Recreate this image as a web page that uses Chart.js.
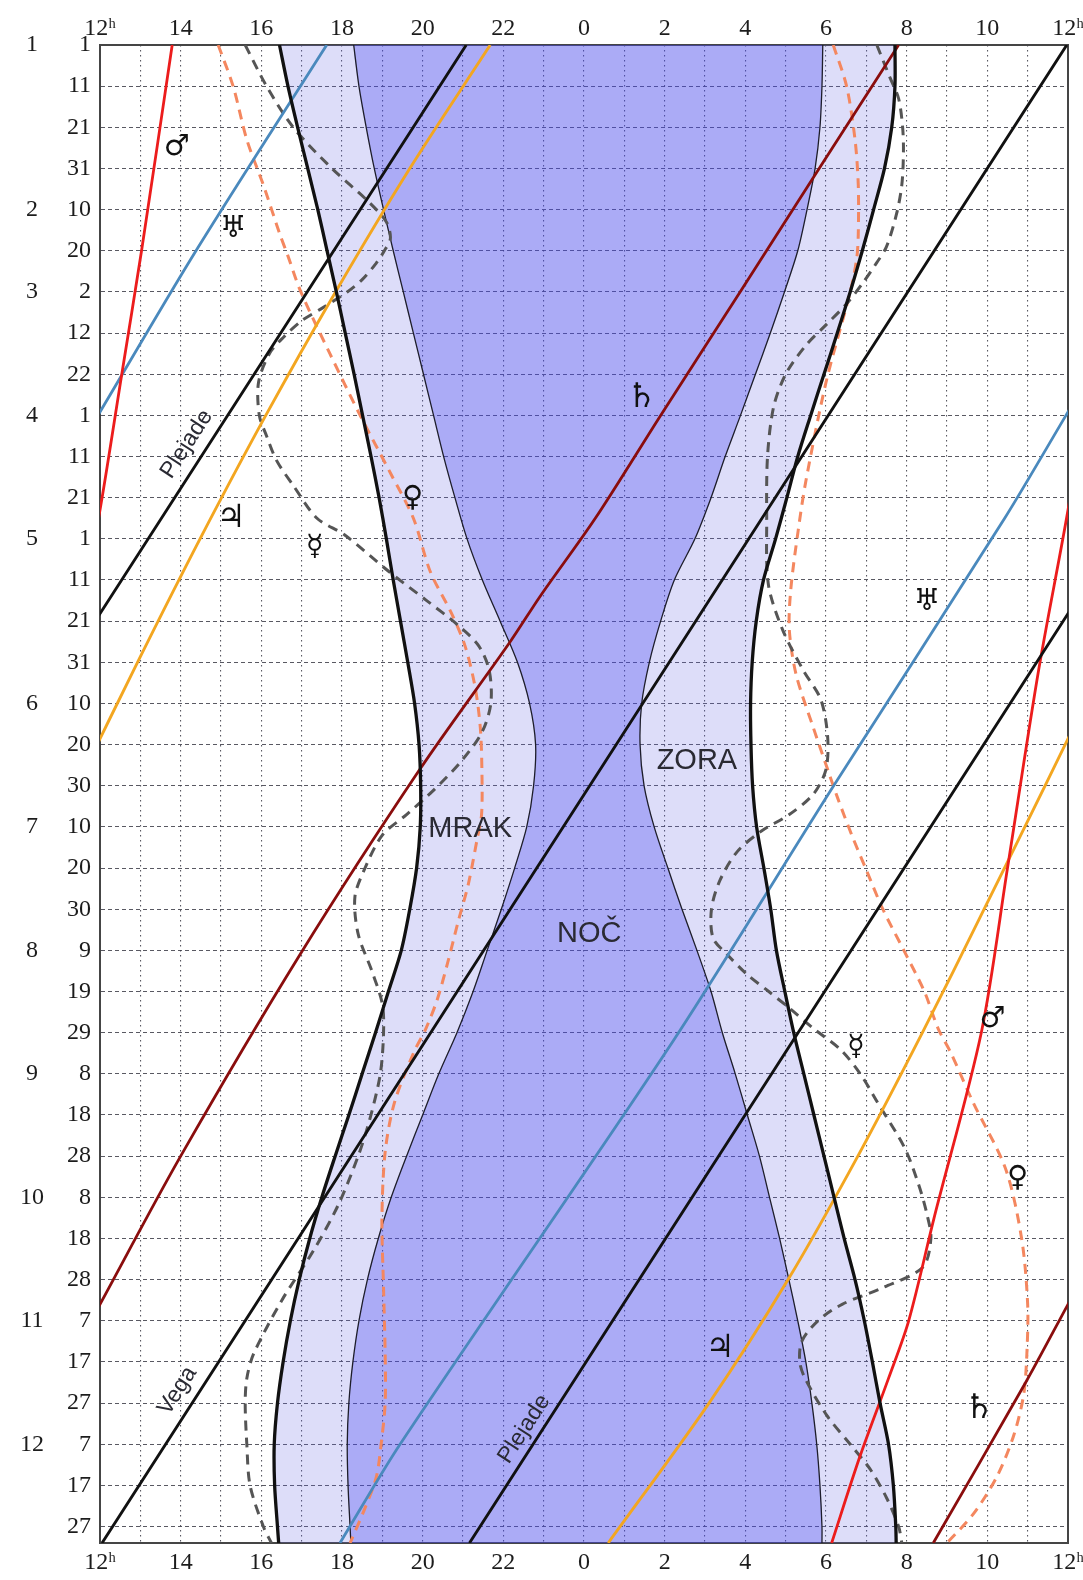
<!DOCTYPE html>
<html lang="sl">
<head>
<meta charset="utf-8">
<title>Vidnost planetov</title>
<script src="https://cdn.jsdelivr.net/npm/chart.js@4.4.1/dist/chart.umd.min.js"></script>
<style>
  html, body { margin: 0; padding: 0; background: #ffffff; }
  canvas { display: block; }
</style>
</head>
<body>
<canvas id="chart" width="1083" height="1580"></canvas>
<script>
// ---------- axes ----------
const HOUR_MIN = 12, HOUR_MAX = 36;   // noon to next noon (hours, continuous)
const DAY_MIN = 0, DAY_MAX = 364;     // day of year, 1 Jan = 0

const hourTicks  = [12,13,14,15,16,17,18,19,20,21,22,23,24,25,26,27,28,29,30,31,32,33,34,35,36];
const hourLabels = ['12ʰ','','14','','16','','18','','20','','22','','0','','2','','4','','6','','8','','10','','12ʰ'];

const dayTicks  = [0,10,20,30,40,50,60,70,80,90,100,110,120,130,140,150,160,170,180,190,200,210,220,230,240,250,260,270,280,290,300,310,320,330,340,350,360];
const dayLabels = ['1','11','21','31','10','20','2','12','22','1','11','21','1','11','21','31','10','20','30','10','20','30','9','19','29','8','18','28','8','18','28','7','17','27','7','17','27'];

const monthTicks  = [0,40,60,90,120,160,190,220,250,280,310,340];
const monthLabels = ['1','2','3','4','5','6','7','8','9','10','11','12'];

// ---------- Sun: sunset, end of dusk, start of dawn, sunrise (hours) ----------
const sunDays   = [0,10,20,30,40,50,60,70,80,90,100,110,120,130,140,150,160,170,180,190,200,210,220,230,240,250,260,270,280,290,300,310,320,330,340,350,360,364];
const sunset    = [16.45,16.66,16.9,17.15,17.4,17.63,17.86,18.08,18.3,18.51,18.72,18.92,19.1,19.27,19.45,19.63,19.8,19.91,19.95,19.94,19.85,19.68,19.47,19.15,18.83,18.5,18.17,17.83,17.5,17.2,16.94,16.72,16.54,16.4,16.32,16.33,16.4,16.43];
const duskEnd   = [18.29,18.42,18.6,18.8,19.03,19.27,19.52,19.77,20.02,20.27,20.52,20.8,21.1,21.48,21.92,22.35,22.65,22.8,22.75,22.58,22.28,21.95,21.6,21.25,20.85,20.4,20.0,19.6,19.22,18.9,18.63,18.42,18.27,18.17,18.13,18.15,18.2,18.22];
const dawnStart = [29.92,29.9,29.85,29.73,29.53,29.3,28.97,28.62,28.25,27.88,27.5,27.15,26.75,26.24,25.9,25.62,25.43,25.39,25.49,25.74,26.08,26.43,26.8,27.15,27.43,27.75,28.05,28.35,28.6,28.85,29.08,29.3,29.5,29.65,29.77,29.85,29.9,29.9];
const sunrise   = [31.71,31.71,31.63,31.45,31.18,30.9,30.6,30.28,29.95,29.62,29.3,29.03,28.75,28.45,28.27,28.17,28.13,28.14,28.18,28.28,28.46,28.63,28.77,28.98,29.2,29.45,29.7,29.95,30.2,30.45,30.72,30.95,31.15,31.34,31.55,31.67,31.73,31.74];

// ---------- planets and stars (transit hours, continuous; wrap every 24 h) ----------
const marsDays    = [0,50,80,113,152,200,240,285,310,324,343,364];
const marsHours   = [13.79,13.03,12.54,12.0,11.27,10.5,9.85,8.68,8.05,7.55,6.84,6.14];

const uranusDays  = [0,50,90,115,180,242,340,364];
const uranusHours = [17.62,14.38,11.95,10.43,6.19,2.21,-4.56,-6.05];

const jupiterDays  = [0,30,60,90,120,150,180,210,240,270,300,330,364];
const jupiterHours = [21.675,19.68,17.84,16.11,14.48,12.93,11.43,9.92,8.39,6.79,5.06,3.1,0.6];

const saturnDays  = [0,30,60,90,115,134,145,176,221,270,306,325,364];
const saturnHours = [31.8,29.83,27.87,25.9,24.28,22.91,22.17,19.93,16.96,14.0,12.0,10.95,8.66];

const pleiadesDays  = [0,364];
const pleiadesHours = [21.08,-2.84];

const vegaDays  = [0,364];
const vegaHours = [35.97,12.05];

// ---------- Mercury (evening / morning) ----------
const mercEveDays  = [0,10,20,30,38,43,47,50,53,57,60,64,67,71,75,82,90,95,101,107,115,119,128,135,141,146,152,160,167,174,181,187,192,200,207,216,225,233,240,250,261,270,282,293,305,318,324,330,340,350,360,364];
const mercEveHours = [15.6,16.13,16.79,17.75,18.65,19.1,19.2,19.05,18.85,18.5,18.13,17.5,17.0,16.55,16.2,15.93,15.95,16.13,16.38,16.79,17.38,18.06,19.17,20.1,20.88,21.39,21.65,21.69,21.47,20.96,20.28,19.6,19.0,18.57,18.32,18.4,18.74,19.0,19.03,18.95,18.69,18.4,17.9,17.29,16.51,15.81,15.64,15.6,15.64,15.72,16.05,16.25];

const mercMornDays  = [0,8,13,20,26,34,41,49,53,58,63,68,73,80,88,100,115,131,142,152,159,168,176,182,187,191,196,203,210,217,221,226,230,234,239,244,250,257,268,277,284,290,297,302,306,310,315,320,324,333,340,346,353,360,364];
const mercMornHours = [31.26,31.59,31.8,31.9,31.92,31.88,31.75,31.5,31.25,30.9,30.5,30.0,29.5,29.0,28.7,28.55,28.53,28.57,28.92,29.44,29.87,30.04,30.0,29.69,29.09,28.4,27.8,27.37,27.16,27.2,27.55,28.06,28.58,29.09,29.69,30.35,30.85,31.28,31.95,32.3,32.5,32.6,32.4,31.4,30.4,29.8,29.4,29.35,29.48,30.02,30.6,31.09,31.5,31.8,31.88];

// ---------- Venus (evening / morning) ----------
const venEveDays  = [0,10,23,34,46,51,60,75,90,104,115,128,138,146,156,166,177,187,193,204,213,223,232,239,245,257,269,285,302,318,330,340,348,356,364];
const venEveHours = [14.93,15.3,15.64,16.05,16.46,16.65,16.98,17.7,18.45,19.2,19.77,20.19,20.71,21.05,21.3,21.43,21.47,21.46,21.35,21.13,20.88,20.62,20.36,20.08,19.77,19.3,19.07,18.99,19.03,19.07,19.07,18.97,18.85,18.55,18.2];

const venMornDays  = [0,10,23,34,46,52,60,82,106,118,132,142,153,166,176,183,192,200,210,220,230,239,245,257,273,290,306,318,328,338,348,357,364];
const venMornHours = [30.18,30.51,30.72,30.8,30.8,30.76,30.6,30.0,29.5,29.31,29.13,29.09,29.26,29.69,30.04,30.29,30.64,30.98,31.41,31.93,32.44,32.78,33.1,33.65,34.45,34.85,35.0,34.98,34.9,34.65,34.23,33.65,33.0];

// ---------- text on the plot ----------
const textLabels = [
  { text: 'ZORA',    hour: 26.8,  day: 174,   size: 29, angle: 0 },
  { text: 'MRAK',    hour: 21.18, day: 190.5, size: 29, angle: 0 },
  { text: 'NOČ',     hour: 24.13, day: 216,   size: 29, angle: 0 },
  { text: 'Plejade', hour: 14.15, day: 97,    size: 23, angle: -57 },
  { text: 'Plejade', hour: 22.52, day: 336.3, size: 23, angle: -57 },
  { text: 'Vega',    hour: 13.92, day: 327,   size: 23, angle: -57 }
];
const symbolLabels = [
  { text: '♂', hour: 13.9,   day: 25,    size: 29 },
  { text: '♂', hour: 34.125, day: 236.8, size: 29 },
  { text: '♅', hour: 15.3,   day: 44.8,  size: 30 },
  { text: '♅', hour: 32.5,   day: 135.4, size: 30 },
  { text: '♄', hour: 25.43,  day: 85.7,  size: 34 },
  { text: '♄', hour: 33.8,   day: 331.4, size: 34 },
  { text: '♃', hour: 15.25,  day: 115.1, size: 32 },
  { text: '♃', hour: 27.375, day: 316.7, size: 32 },
  { text: '☿', hour: 17.33,  day: 122,   size: 29 },
  { text: '☿', hour: 30.75,  day: 243.7, size: 29 },
  { text: '♀', hour: 19.75,  day: 110.2, size: 29 },
  { text: '♀', hour: 34.75,  day: 275.5, size: 29 }
];

// ---------- styles ----------
const LIGHT_BAND = 'rgba(100,100,228,0.22)';
const DARK_BAND  = 'rgba(55,55,242,0.30)';
const GRID_COLOR = 'rgba(60,60,70,0.85)';
const FRAME      = '#454545';
const TICK_FONT  = { family: '"Liberation Serif", "DejaVu Serif", serif', size: 24 };
const TICK_COLOR = '#1c1c1c';

function track(days, hours, shift) {
  return days.map((d, i) => ({ x: hours[i] + shift, y: d }));
}

function curve(name, days, hours, color, width, dash, order, shifts) {
  return (shifts || [0]).map(s => ({
    label: name,
    data: track(days, hours, s),
    borderColor: color,
    borderWidth: width,
    borderDash: dash || [],
    borderCapStyle: 'butt',
    pointRadius: 0,
    pointHoverRadius: 0,
    fill: false,
    tension: 0.3,
    order: order
  }));
}

// closed area between an evening boundary and a morning boundary
function band(name, days, left, right, color, order) {
  const last = days.length - 1;
  const pts = [{ x: HOUR_MIN - 3, y: DAY_MIN - 60 }, { x: left[0], y: DAY_MIN - 25 }];
  days.forEach((d, i) => pts.push({ x: left[i], y: d }));
  pts.push({ x: left[last], y: DAY_MAX + 25 }, { x: right[last], y: DAY_MAX + 25 });
  for (let i = last; i >= 0; i--) pts.push({ x: right[i], y: days[i] });
  pts.push({ x: right[0], y: DAY_MIN - 25 }, { x: HOUR_MAX + 3, y: DAY_MIN - 60 });
  return {
    label: name, data: pts, fill: 'shape', backgroundColor: color,
    borderColor: 'rgba(0,0,0,0)', borderWidth: 0, pointRadius: 0, pointHoverRadius: 0,
    tension: 0.3, order: order
  };
}

const WRAP = [0, 24];
const datasets = [
  band('somrak', sunDays, sunset, sunrise, LIGHT_BAND, 20),
  band('noč', sunDays, duskEnd, dawnStart, DARK_BAND, 19),
  ...curve('konec mraka', sunDays, duskEnd, '#1d1d2a', 1.3, null, 8),
  ...curve('začetek zore', sunDays, dawnStart, '#1d1d2a', 1.3, null, 8),
  ...curve('Venera zvečer', venEveDays, venEveHours, '#f4875f', 3, [10, 7], 6),
  ...curve('Venera zjutraj', venMornDays, venMornHours, '#f4875f', 3, [10, 7], 6),
  ...curve('Merkur zvečer', mercEveDays, mercEveHours, '#555555', 3, [10, 7], 5),
  ...curve('Merkur zjutraj', mercMornDays, mercMornHours, '#555555', 3, [10, 7], 5),
  ...curve('Mars', marsDays, marsHours, '#ec1c1c', 2.8, null, 4, WRAP),
  ...curve('Uran', uranusDays, uranusHours, '#4a89bd', 2.8, null, 4, WRAP),
  ...curve('Jupiter', jupiterDays, jupiterHours, '#f3a620', 2.9, null, 4, WRAP),
  ...curve('Saturn', saturnDays, saturnHours, '#8a0d0d', 2.8, null, 4, WRAP),
  ...curve('Plejade', pleiadesDays, pleiadesHours, '#111111', 2.9, null, 3, WRAP),
  ...curve('Vega', vegaDays, vegaHours, '#111111', 2.9, null, 3),
  ...curve('zahod Sonca', sunDays, sunset, '#111111', 3.3, null, 2),
  ...curve('vzhod Sonca', sunDays, sunrise, '#111111', 3.3, null, 2)
];

const annotate = {
  id: 'annotate',
  afterDraw(chart) {
    const { ctx, chartArea: a, scales: { x, y } } = chart;
    ctx.save();
    ctx.beginPath();
    ctx.rect(a.left, a.top, a.right - a.left, a.bottom - a.top);
    ctx.clip();
    ctx.textAlign = 'center';
    ctx.textBaseline = 'middle';
    for (const t of textLabels) {
      ctx.save();
      ctx.translate(x.getPixelForValue(t.hour), y.getPixelForValue(t.day));
      ctx.rotate(t.angle * Math.PI / 180);
      ctx.font = t.size + 'px "Liberation Sans", "DejaVu Sans", sans-serif';
      ctx.fillStyle = '#2a2a33';
      ctx.fillText(t.text, 0, 0);
      ctx.restore();
    }
    ctx.fillStyle = '#111111';
    for (const s of symbolLabels) {
      ctx.font = s.size + 'px "DejaVu Sans", sans-serif';
      ctx.fillText(s.text, x.getPixelForValue(s.hour), y.getPixelForValue(s.day));
    }
    ctx.restore();
  }
};

const hourAxis = (position, height, showGrid, pad) => ({
  type: 'linear', position, min: HOUR_MIN, max: HOUR_MAX,
  afterBuildTicks: s => { s.ticks = hourTicks.map(v => ({ value: v })); },
  afterFit: s => { s.height = height; s.paddingLeft = 0; s.paddingRight = 0; },
  ticks: {
    callback: v => hourLabels[hourTicks.indexOf(v)],
    autoSkip: false, maxRotation: 0, padding: pad,
    font: TICK_FONT, color: TICK_COLOR
  },
  grid: { display: showGrid, color: GRID_COLOR, lineWidth: 1.1, drawTicks: false },
  border: { display: true, color: FRAME, width: 2, dash: [1.5, 3.5] }
});

new Chart(document.getElementById('chart'), {
  type: 'line',
  data: { datasets },
  options: {
    responsive: false,
    animation: false,
    events: [],
    layout: { padding: { top: 0, right: 15, bottom: 0, left: 0 } },
    plugins: { legend: { display: false }, tooltip: { enabled: false } },
    scales: {
      x: hourAxis('bottom', 37, true, 5),
      xTop: hourAxis('top', 45, false, 2),
      y: {
        type: 'linear', position: 'left', reverse: true, min: DAY_MIN, max: DAY_MAX, weight: 0,
        afterBuildTicks: s => { s.ticks = dayTicks.map(v => ({ value: v })); },
        afterFit: s => { s.width = 46; },
        ticks: {
          callback: v => dayLabels[dayTicks.indexOf(v)],
          autoSkip: false, padding: 9, font: TICK_FONT, color: TICK_COLOR
        },
        grid: { color: GRID_COLOR, lineWidth: 1.1, drawTicks: false },
        border: { display: true, color: FRAME, width: 2, dash: [4, 3] }
      },
      yMonth: {
        type: 'linear', position: 'left', reverse: true, min: DAY_MIN, max: DAY_MAX, weight: 1,
        afterBuildTicks: s => { s.ticks = monthTicks.map(v => ({ value: v })); },
        afterFit: s => { s.width = 54; },
        ticks: {
          callback: v => monthLabels[monthTicks.indexOf(v)],
          autoSkip: false, crossAlign: 'center', padding: 10, font: TICK_FONT, color: TICK_COLOR
        },
        grid: { display: false, drawTicks: false },
        border: { display: false }
      },
      yRight: {
        type: 'linear', position: 'right', reverse: true, min: DAY_MIN, max: DAY_MAX,
        afterFit: s => { s.width = 0; },
        ticks: { display: false },
        grid: { display: false, drawTicks: false },
        border: { display: true, color: FRAME, width: 2 }
      }
    }
  },
  plugins: [annotate]
});
</script>
</body>
</html>
